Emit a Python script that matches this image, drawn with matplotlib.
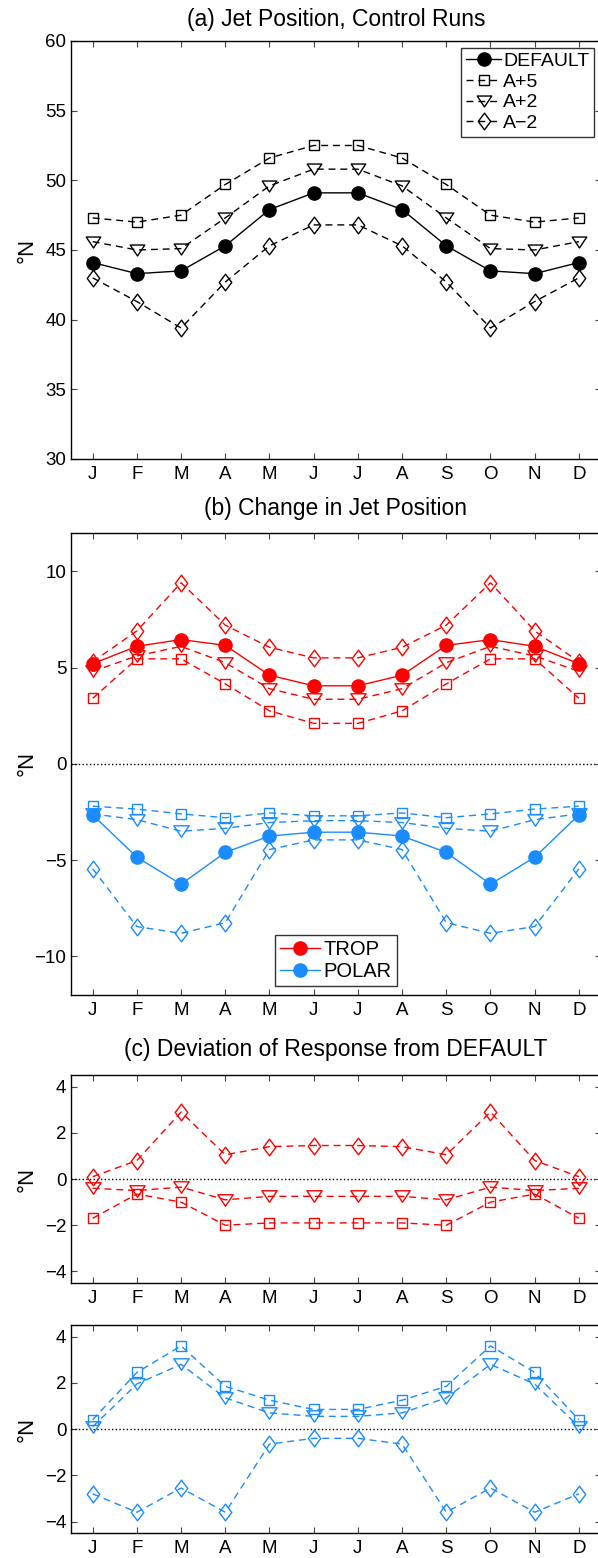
import matplotlib
matplotlib.use('Agg')
import matplotlib.pyplot as plt
import numpy as np
from matplotlib.path import Path

plt.rcParams['font.family'] = ['Liberation Sans', 'DejaVu Sans']

months = ['J', 'F', 'M', 'A', 'M', 'J', 'J', 'A', 'S', 'O', 'N', 'D']

# (a) jet position, control runs
a_default = [44.1, 43.3, 43.5, 45.3, 47.9, 49.1, 49.1, 47.9, 45.3, 43.5, 43.3, 44.1]
a_p5 = [47.3, 47.0, 47.5, 49.7, 51.6, 52.5, 52.5, 51.6, 49.7, 47.5, 47.0, 47.3]
a_p2 = [45.6, 45.0, 45.1, 47.3, 49.6, 50.8, 50.8, 49.6, 47.3, 45.1, 45.0, 45.6]
a_m2 = [43.0, 41.3, 39.4, 42.7, 45.3, 46.8, 46.8, 45.3, 42.7, 39.4, 41.3, 43.0]

# (b) change in jet position
trop_default = [5.2, 6.1, 6.45, 6.15, 4.6, 4.05, 4.05, 4.6, 6.15, 6.45, 6.1, 5.2]
trop_p5 = [3.4, 5.45, 5.45, 4.15, 2.75, 2.1, 2.1, 2.75, 4.15, 5.45, 5.45, 3.4]
trop_p2 = [4.8, 5.6, 6.1, 5.25, 3.9, 3.35, 3.35, 3.9, 5.25, 6.1, 5.6, 4.8]
trop_m2 = [5.3, 6.9, 9.4, 7.2, 6.05, 5.5, 5.5, 6.05, 7.2, 9.4, 6.9, 5.3]
polar_default = [-2.65, -4.85, -6.25, -4.6, -3.75, -3.55, -3.55, -3.75, -4.6, -6.25, -4.85, -2.65]
polar_p5 = [-2.2, -2.35, -2.6, -2.8, -2.55, -2.7, -2.7, -2.55, -2.8, -2.6, -2.35, -2.2]
polar_p2 = [-2.6, -2.9, -3.5, -3.35, -3.05, -2.95, -2.95, -3.05, -3.35, -3.5, -2.9, -2.6]
polar_m2 = [-5.45, -8.45, -8.8, -8.25, -4.45, -3.95, -3.95, -4.45, -8.25, -8.8, -8.45, -5.45]

# (c) deviation of response from DEFAULT
trop_dev_p5 = [-1.7, -0.65, -1.0, -2.0, -1.9, -1.9, -1.9, -1.9, -2.0, -1.0, -0.65, -1.7]
trop_dev_p2 = [-0.4, -0.5, -0.35, -0.9, -0.75, -0.75, -0.75, -0.75, -0.9, -0.35, -0.5, -0.4]
trop_dev_m2 = [0.1, 0.8, 2.9, 1.05, 1.4, 1.45, 1.45, 1.4, 1.05, 2.9, 0.8, 0.1]
polar_dev_p5 = [0.4, 2.45, 3.6, 1.85, 1.25, 0.85, 0.85, 1.25, 1.85, 3.6, 2.45, 0.4]
polar_dev_p2 = [0.1, 1.95, 2.8, 1.35, 0.7, 0.55, 0.55, 0.7, 1.35, 2.8, 1.95, 0.1]
polar_dev_m2 = [-2.8, -3.6, -2.55, -3.6, -0.65, -0.4, -0.4, -0.65, -3.6, -2.55, -3.6, -2.8]

x = np.arange(1, 13)
red = '#ff0000'
blue = '#1a8cff'

# matlab-like markers
tri = Path([(-1, 0.75), (1, 0.75), (0, -0.75), (-1, 0.75)], closed=True)
dia = Path([(0, 1), (0.75, 0), (0, -1), (-0.75, 0), (0, 1)], closed=True)
dash = (5, 3.5)


def style(ax, ylim, yticks, title=None, pad=12):
    ax.set_xlim(0.5, 12.5)
    ax.set_ylim(*ylim)
    ax.set_yticks(yticks)
    ax.set_xticks(x)
    ax.set_xticklabels(months)
    ax.tick_params(direction='in', top=True, right=True, length=4, width=0.8,
                   labelsize=13.5, color='#444444')
    ax.tick_params(axis='x', pad=5)
    ax.tick_params(axis='y', pad=3)
    for s in ax.spines.values():
        s.set_linewidth(1.0)
    ax.set_ylabel('°N', fontsize=16)
    ax.yaxis.set_label_coords(-0.063, 0.5)
    if title:
        ax.set_title(title, fontsize=16.5, pad=pad)


def series(ax, y, color, marker, ms, ls='--', fill=False):
    line, = ax.plot(x, y, color=color, lw=1.0, marker=marker, ms=ms,
                    markerfacecolor=color if fill else 'none',
                    markeredgecolor=color, markeredgewidth=1.0, ls=ls)
    if ls == '--':
        line.set_dashes(dash)
    return line


fig = plt.figure(figsize=(5.98, 15.58), dpi=100)
ax_a = fig.add_axes([0.118, 0.7054, 0.887, 0.2683])
ax_b = fig.add_axes([0.118, 0.3614, 0.887, 0.2967])
ax_c = fig.add_axes([0.118, 0.1765, 0.887, 0.1335])
ax_d = fig.add_axes([0.118, 0.0160, 0.887, 0.1335])

# panel a
la = series(ax_a, a_default, 'black', 'o', 9.5, ls='-', fill=True)
lb = series(ax_a, a_p5, 'black', 's', 7.5)
lc = series(ax_a, a_p2, 'black', tri, 10.5)
ld = series(ax_a, a_m2, 'black', dia, 12)
style(ax_a, (30, 60), [30, 35, 40, 45, 50, 55, 60], '(a) Jet Position, Control Runs', 11)
leg = ax_a.legend([la, lb, lc, ld], ['DEFAULT', 'A+5', 'A+2', 'A\u22122'],
                  loc='upper right', fontsize=14, handlelength=1.8, handletextpad=0.1,
                  labelspacing=0.15, borderpad=0.25, borderaxespad=0.35, fancybox=False)
leg.get_frame().set_edgecolor('black')
leg.get_frame().set_linewidth(1.0)

# panel b
ax_b.axhline(0, color='black', ls=':', lw=1.0)
t = series(ax_b, trop_default, red, 'o', 9.5, ls='-', fill=True)
series(ax_b, trop_p5, red, 's', 7.5)
series(ax_b, trop_p2, red, tri, 11)
series(ax_b, trop_m2, red, dia, 12)
p = series(ax_b, polar_default, blue, 'o', 9.5, ls='-', fill=True)
series(ax_b, polar_p5, blue, 's', 7.5)
series(ax_b, polar_p2, blue, tri, 11)
series(ax_b, polar_m2, blue, dia, 12)
style(ax_b, (-12, 12), [-10, -5, 0, 5, 10], '(b) Change in Jet Position', 12.5)
leg = ax_b.legend([t, p], ['TROP', 'POLAR'], loc='lower center', fontsize=14.5,
                  handlelength=2.0, handletextpad=0.2, labelspacing=0.15,
                  borderpad=0.25, borderaxespad=0.45, fancybox=False)
leg.get_frame().set_edgecolor('black')
leg.get_frame().set_linewidth(1.0)

# panel c
ax_c.axhline(0, color='black', ls=':', lw=1.0)
series(ax_c, trop_dev_p5, red, 's', 7.5)
series(ax_c, trop_dev_p2, red, tri, 11)
series(ax_c, trop_dev_m2, red, dia, 12)
style(ax_c, (-4.5, 4.5), [-4, -2, 0, 2, 4], '(c) Deviation of Response from DEFAULT', 14)

# panel d
ax_d.axhline(0, color='black', ls=':', lw=1.0)
series(ax_d, polar_dev_p5, blue, 's', 7.5)
series(ax_d, polar_dev_p2, blue, tri, 11)
series(ax_d, polar_dev_m2, blue, dia, 12)
style(ax_d, (-4.5, 4.5), [-4, -2, 0, 2, 4])

fig.savefig('out.png', dpi=100)
